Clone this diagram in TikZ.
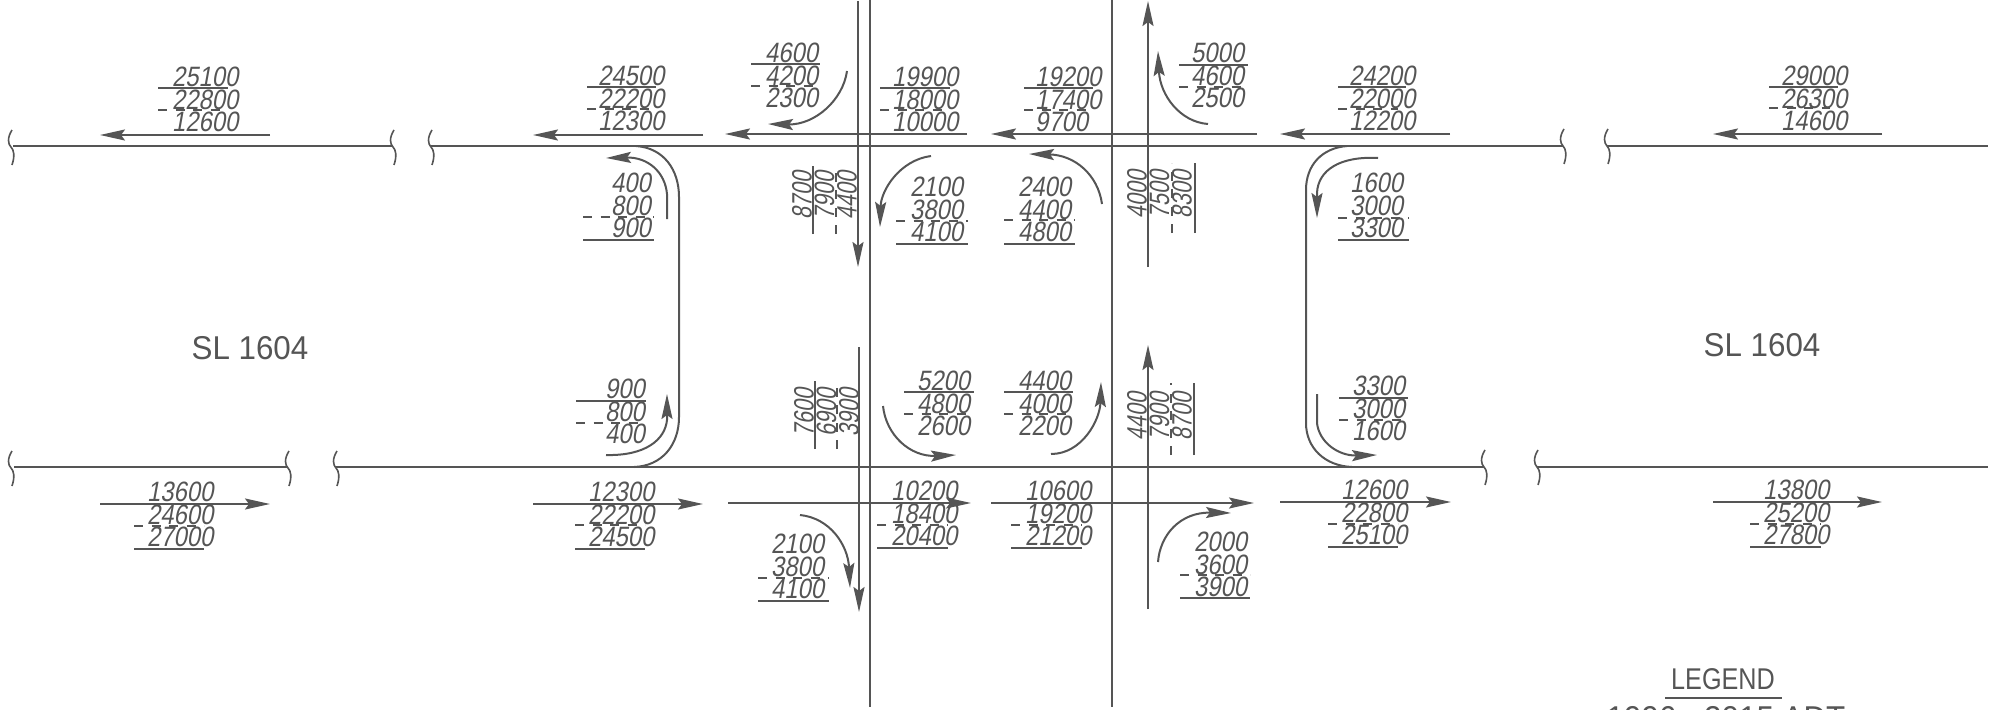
\documentclass[tikz,border=0pt]{standalone}
\usepackage{fontspec}
\usetikzlibrary{arrows.meta}
\setmainfont{Liberation Sans}
\newfontfamily\cadit[FakeSlant=0.18,FakeStretch=0.85]{Liberation Sans}
\newfontfamily\caditr[FakeSlant=0.18,FakeStretch=0.77]{Liberation Sans}
\newfontfamily\cadup[FakeStretch=0.84]{Liberation Sans}
\newfontfamily\cadwide[FakeStretch=0.95]{Liberation Sans}
\definecolor{ink}{HTML}{555555}
\tikzset{
  num/.style={inner sep=0pt,anchor=west,text=ink,font=\cadit\fontsize{28}{28}\selectfont},
  rnum/.style={inner sep=0pt,anchor=west,text=ink,rotate=90,font=\caditr\fontsize{28}{28}\selectfont},
  captext/.style={inner sep=0pt,text=ink,font=\cadup\fontsize{30}{30}\selectfont},
  widetext/.style={inner sep=0pt,text=ink,font=\cadwide\fontsize{33}{33}\selectfont},
  road/.style={draw=ink,line width=2pt},
  rulesolid/.style={draw=ink,line width=2pt},
  ruledash/.style={draw=ink,line width=1.7pt,dash pattern=on 9pt off 8.5pt},
  flow/.style={draw=ink,line width=2pt,-{Stealth[length=25pt,width=11pt,inset=4pt]}},
  breakmark/.style={draw=ink,line width=1.6pt}
}
% three stacked figures: name, text left, first row y, figures
\newcommand{\trio}[6]{%
  \node[num] (#1a) at (#2,#3) {#4};
  \node[num] (#1b) at (#2,#3+22.5) {#5};
  \node[num] (#1c) at (#2,#3+45) {#6};}
% rotated stack: name, first column x, bottom y, figures
\newcommand{\rtrio}[6]{%
  \node[rnum] (#1a) at (#2,#3) {#4};
  \node[rnum] (#1b) at (#2+22.5,#3) {#5};
  \node[rnum] (#1c) at (#2+45,#3) {#6};}
\newcommand{\hsolid}[3]{\draw[rulesolid] (#1,#3) -- (#2,#3);}
\newcommand{\hdash}[3]{\draw[ruledash] (#1,#3) -- (#2,#3);}
\newcommand{\brk}[2]{\draw[breakmark] (#1+1,#2-17) .. controls (#1-4,#2-9) and (#1-3,#2-3) .. (#1,#2) .. controls (#1+3,#2+3) and (#1+4,#2+9) .. (#1+1,#2+18);}
\begin{document}
\begin{tikzpicture}[x=1pt,y=-1pt]
\useasboundingbox (0,0) rectangle (2001,709);
\clip (0,0) rectangle (2001,709);
% roads
\draw[road] (13,146) -- (393,146);
\draw[road] (431,146) -- (1563,146);
\draw[road] (1607,146) -- (1988,146);
\draw[road] (14,467) -- (288,467);
\draw[road] (336,467) -- (1484,467);
\draw[road] (1537,467) -- (1988,467);
\draw[road] (870,0) -- (870,707);
\draw[road] (1112,0) -- (1112,707);
% ramps
\draw[road] (636,146) .. controls (664,148) and (679,170) .. (679,197) -- (679,417) .. controls (679,445) and (662,466) .. (634,467);
\draw[road] (1347,146) .. controls (1322,148) and (1306,165) .. (1306,190) -- (1306,423) .. controls (1306,448) and (1325,466) .. (1352,467);
% break marks
\brk{11}{147}\brk{393}{147}\brk{431}{147}\brk{1563}{146}\brk{1607}{146}
\brk{11}{468}\brk{288}{468}\brk{336}{468}\brk{1484}{467}\brk{1537}{467}
% through arrows, top
\draw[flow] (270,135) -- (100,135);
\draw[flow] (703,135) -- (533,135);
\draw[flow] (967,134) -- (725,134);
\draw[flow] (1257,134) -- (991,134);
\draw[flow] (1450,134) -- (1280,134);
\draw[flow] (1882,134) -- (1713,134);
% through arrows, bottom
\draw[flow] (100,504) -- (270,504);
\draw[flow] (533,504) -- (703,504);
\draw[flow] (728,503) -- (971,503);
\draw[flow] (991,503) -- (1254,503);
\draw[flow] (1280,502) -- (1451,502);
\draw[flow] (1713,502) -- (1882,502);
% through arrows, cross street
\draw[flow] (858,1) -- (858,267);
\draw[flow] (859,347) -- (859,612);
\draw[flow] (1148,267) -- (1148,1);
\draw[flow] (1148,609) -- (1148,345);
% turn arrows
\draw[flow] (847,71) .. controls (843,100) and (815,125) .. (768,124);
\draw[flow] (1208,124) .. controls (1180,122) and (1160,95) .. (1158,51);
\draw[flow] (931,156) .. controls (900,160) and (881,190) .. (880,227);
\draw[flow] (1102,204) .. controls (1098,175) and (1075,155) .. (1029,154);
\draw[flow] (883,406) .. controls (886,435) and (910,457) .. (956,455);
\draw[flow] (1051,454) .. controls (1082,454) and (1100,420) .. (1101,382);
\draw[flow] (800,515) .. controls (830,518) and (848,545) .. (850,588);
\draw[flow] (1158,562) .. controls (1160,535) and (1180,512) .. (1231,513);
\draw[flow] (667,219) -- (667,194) .. controls (665,172) and (648,157) .. (606,158);
\draw[flow] (606,455) .. controls (645,456) and (665,440) .. (667,420) -- (667,394);
\draw[flow] (1378,158) .. controls (1340,156) and (1318,170) .. (1317,193) -- (1317,218);
\draw[flow] (1317,394) -- (1317,423) .. controls (1319,442) and (1338,456) .. (1377,455);
% figures, top side of top road
\trio{ga}{172}{77}{25100}{22800}{12600}
\hsolid{158}{228}{88}\hdash{158}{226}{110}
\trio{gb}{598}{76}{24500}{22200}{12300}
\hsolid{587}{656}{87}\hdash{587}{650}{109}
\trio{gd}{765}{53}{4600}{4200}{2300}
\hsolid{751}{820}{64}\hdash{751}{816}{86}
\trio{ge}{892}{77}{19900}{18000}{10000}
\hsolid{880}{950}{88}\hdash{880}{945}{110}
\trio{gf}{1035}{77}{19200}{17400}{9700}
\hsolid{1024}{1093}{88}\hdash{1024}{1088}{110}
\trio{gg}{1191}{53}{5000}{4600}{2500}
\hsolid{1179}{1248}{65}\hdash{1179}{1242}{87}
\trio{gh}{1349}{76}{24200}{22000}{12200}
\hsolid{1338}{1406}{87}\hdash{1338}{1398}{109}
\trio{gi}{1781}{76}{29000}{26300}{14600}
\hsolid{1769}{1838}{87}\hdash{1769}{1830}{108}
% figures below top road
\trio{gc}{611}{183}{400}{800}{900}
\hdash{583}{654}{217}\hsolid{583}{654}{240}
\trio{gj}{910}{187}{2100}{3800}{4100}
\hdash{896}{968}{221}\hsolid{896}{968}{244}
\trio{gk}{1018}{187}{2400}{4400}{4800}
\hdash{1004}{1075}{220}\hsolid{1004}{1075}{244}
\trio{gl}{1350}{183}{1600}{3000}{3300}
\hdash{1338}{1409}{218}\hsolid{1338}{1409}{240}
% figures above bottom road
\trio{gm}{605}{389}{900}{800}{400}
\hsolid{576}{646}{401}\hdash{576}{640}{423}
\trio{gn}{917}{381}{5200}{4800}{2600}
\hsolid{904}{974}{392}\hdash{904}{968}{414}
\trio{go}{1018}{381}{4400}{4000}{2200}
\hsolid{1004}{1073}{392}\hdash{1004}{1068}{414}
\trio{gp}{1352}{386}{3300}{3000}{1600}
\hsolid{1339}{1408}{398}\hdash{1339}{1402}{420}
% figures below bottom road
\trio{gq}{147}{492}{13600}{24600}{27000}
\hdash{134}{204}{526}\hsolid{134}{204}{549}
\trio{gr}{588}{492}{12300}{22200}{24500}
\hdash{575}{645}{525}\hsolid{575}{645}{549}
\trio{gs}{891}{491}{10200}{18400}{20400}
\hdash{877}{948}{525}\hsolid{877}{948}{548}
\trio{gt}{1025}{491}{10600}{19200}{21200}
\hdash{1011}{1082}{525}\hsolid{1011}{1082}{548}
\trio{gu}{1341}{490}{12600}{22800}{25100}
\hdash{1328}{1398}{524}\hsolid{1328}{1398}{547}
\trio{gv}{1763}{490}{13800}{25200}{27800}
\hdash{1750}{1821}{524}\hsolid{1750}{1821}{547}
\trio{gw}{771}{544}{2100}{3800}{4100}
\hdash{758}{829}{578}\hsolid{758}{829}{601}
\trio{gx}{1194}{542}{2000}{3600}{3900}
\hdash{1180}{1250}{575}\hsolid{1180}{1250}{598}
% rotated figures
\rtrio{ra}{802}{220}{8700}{7900}{4400}
\draw[rulesolid] (813,234) -- (813,166);
\draw[ruledash] (836,234) -- (836,166);
\rtrio{rb}{1137}{219}{4000}{7500}{8300}
\draw[ruledash] (1172,233) -- (1172,163);
\draw[rulesolid] (1195,233) -- (1195,163);
\rtrio{rc}{804}{437}{7600}{6900}{3900}
\draw[rulesolid] (815,449) -- (815,381);
\draw[ruledash] (837,449) -- (837,381);
\rtrio{rd}{1137}{441}{4400}{7900}{8700}
\draw[ruledash] (1171,455) -- (1171,383);
\draw[rulesolid] (1194,455) -- (1194,383);
% labels
\node[widetext] (slw) at (250,348) {SL 1604};
\node[widetext] (sle) at (1762,345) {SL 1604};
\node[captext] (leg) at (1723,679) {LEGEND};
\draw[rulesolid] (1665,698) -- (1782,698);
\node[widetext,anchor=north] (yrs) at (1726,706.5) {1996 - 2015 ADT};
\end{tikzpicture}
\end{document}
